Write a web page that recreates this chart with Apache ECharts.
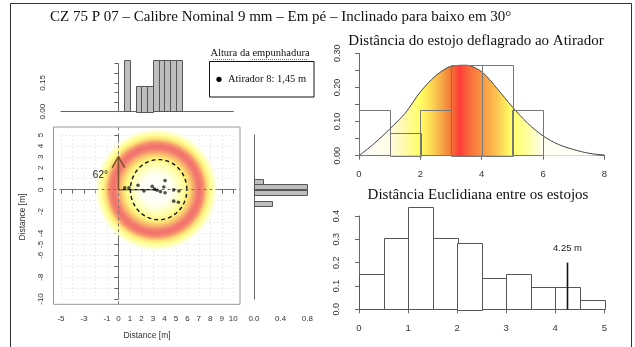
<!DOCTYPE html>
<html lang="pt">
<head>
<meta charset="UTF-8">
<title>CZ 75 P 07 - estojos</title>
<style>
  html, body { margin: 0; padding: 0; background: #fff; }
  #chart { width: 635px; height: 347px; }
</style>
</head>
<body>
<div id="chart"></div>
<script src="https://cdn.jsdelivr.net/npm/echarts@6/dist/echarts.min.js"></script>
<script>
const chart = echarts.init(document.getElementById('chart'));

// textos
const mainTitle = 'CZ 75 P 07 – Calibre Nominal 9 mm – Em pé – Inclinado para baixo em 30°';
const distTitle = 'Distância do estojo deflagrado ao Atirador';
const pairTitle = 'Distância Euclidiana entre os estojos';
const legendTitle = 'Altura da empunhadura';
const legendText = 'Atirador 8: 1,45 m';
const axisTitle = 'Distance [m]';

// posição dos estojos (m)
const shotX = [0.55, 0.92, 1.70, 2.22, 2.94, 3.14, 3.37, 3.66, 3.95, 4.06, 4.06, 4.81, 5.27, 4.81, 5.22];
const shotY = [0.18, 0.18, 0.40, -0.12, 0.30, 0.05, -0.05, -0.18, 0.25, 0.83, -0.28, -0.02, -0.12, -1.05, -1.15];

const shooter = [0, 0];
const meanDist = 3.35;
const aimLen = 3;
const aimLabel = '62°';
const ringCenter = [3.5, 0];
const ringRadiusX = 2.46;
const ringRadiusY = 2.75;
const heatCenter = [3.3, 0];
const heatRadius = 5.4;

const mainXLabels = [-5, -3, -1, 0, 1, 2, 3, 4, 5, 6, 7, 8, 9, 10];
const mainYLabels = [5, 4, 3, 2, 1, 0, -2, -4, -5, -6, -8, -10];

// histograma em x (topo)
const topEdges = [0.5, 1, 1.5, 2, 2.5, 3, 3.5, 4, 4.5, 5, 5.5];
const topDens = [0.267, 0, 0.133, 0.133, 0.133, 0.267, 0.267, 0.267, 0.267, 0.267];
const topYLabels = ['0.00', '0.15'];

// histograma em y (lado)
const sideEdges = [-1.5, -1, -0.5, 0, 0.5, 1];
const sideDens = [0.267, 0, 0.8, 0.8, 0.133];
const sideXLabels = ['0.0', '0.4', '0.8'];

// distancia ao atirador
const distEdges = [0, 1, 2, 3, 4, 5, 6];
const distDens = [0.133, 0.067, 0.133, 0.267, 0.267, 0.133];
const curveX = [0, 0.5, 1, 1.5, 2, 2.5, 3, 3.5, 4, 4.5, 5, 5.5, 6, 6.5, 7, 7.5, 8];
const curveY = [0, 0.036, 0.078, 0.124, 0.187, 0.234, 0.262, 0.265, 0.246, 0.197, 0.143, 0.095, 0.058, 0.033, 0.018, 0.007, 0.002];
const distYLabels = ['0.00', '0.10', '0.20', '0.30'];

// distancia euclidiana entre estojos
const pairEdges = [0, 0.5, 1, 1.5, 2, 2.5, 3, 3.5, 4, 4.5, 5];
const pairDens = [0.152, 0.305, 0.438, 0.305, 0.286, 0.133, 0.152, 0.095, 0.095, 0.038];
const pairRef = 4.25;
const pairRefTop = 0.2;
const pairRefLabel = '4.25 m';

const SANS = 'Liberation Sans, Arial, sans-serif';
const SERIF = 'Liberation Serif, Times New Roman, serif';
const axisGray = '#666';
const labelGray = '#333';

function bins(edges, dens) {
  return dens.map((d, i) => [edges[i], edges[i + 1], d]);
}

// grids em pixels
const box = { left: 53.5, top: 127, right: 240, bottom: 304.3 };
const gB = { left: 61, top: 135, width: 172.3, height: 164 };
const pxX = gB.width / 15, pxY = gB.height / 15;
const boxXMin = -5 - (gB.left - box.left) / pxX;
const boxXMax = 10 + (box.right - gB.left - gB.width) / pxX;
const boxYMax = 5 + (gB.top - box.top) / pxY;
const boxYMin = -10 - (box.bottom - gB.top - gB.height) / pxY;

const grids = [
  { left: box.left, top: box.top, width: box.right - box.left, height: box.bottom - box.top,
    show: true, borderColor: '#999', borderWidth: 1 },
  gB,
  { left: 61, top: 63.7, width: 172.3, height: 48 },
  { left: 254, top: 135, width: 53.3, height: 164 },
  { left: 359, top: 53.3, width: 245.4, height: 102.4 },
  { left: 359, top: 216, width: 245.3, height: 93.3 }
].map(g => Object.assign({ containLabel: false, outerBoundsMode: 'none' }, g));

function valAxis(grid, min, max, extra) {
  const a = {
    type: 'value', gridIndex: grid, min: min, max: max,
    axisLine: { show: true, lineStyle: { color: axisGray, width: 1 } },
    axisTick: { show: true, length: 4, lineStyle: { color: axisGray } },
    axisLabel: { show: true, color: labelGray, fontFamily: SANS, fontSize: 8 },
    splitLine: { show: false }
  };
  for (const k in extra) {
    if (typeof extra[k] === 'object' && a[k]) Object.assign(a[k], extra[k]);
    else a[k] = extra[k];
  }
  return a;
}
const fmtList = (list, dec) => v => list.includes(v.toFixed(dec)) ? v.toFixed(dec) : '';
const hidden = { axisLine: { show: false }, axisTick: { show: false }, axisLabel: { show: false } };
const gridLine = { show: true, lineStyle: { color: '#e8e8e8', type: [2, 2], width: 0.8 } };

const xAxes = [
  valAxis(0, boxXMin, boxXMax, Object.assign({ show: false }, hidden)),
  valAxis(1, -5, 10, { interval: 1, offset: 11, splitLine: gridLine,
    axisLabel: { margin: 5, formatter: v => mainXLabels.includes(Math.round(v)) ? String(Math.round(v)) : '' } }),
  valAxis(2, -5, 10, { axisTick: { show: false }, axisLabel: { show: false } }),
  valAxis(3, 0, 0.8, { interval: 0.2, offset: 7, axisLabel: { margin: 9, formatter: fmtList(sideXLabels, 1) } }),
  valAxis(4, 0, 8, { interval: 2, offset: 6, axisLabel: { margin: 8, fontSize: 9.5 } }),
  valAxis(5, 0, 5, { interval: 1, offset: 5, axisLabel: { margin: 9, fontSize: 9.5 } })
];
const yAxes = [
  valAxis(0, boxYMin, boxYMax, Object.assign({ show: false }, hidden)),
  valAxis(1, -10, 5, { interval: 1, offset: 11.5, splitLine: gridLine,
    axisLabel: { rotate: 90, margin: 5, formatter: v => mainYLabels.includes(Math.round(v)) ? String(Math.round(v)) : '' } }),
  valAxis(2, 0, 0.25, { interval: 0.05, offset: 8, axisLabel: { rotate: 90, margin: 6, formatter: fmtList(topYLabels, 2) } }),
  valAxis(3, -10, 5, { axisTick: { show: false }, axisLabel: { show: false } }),
  valAxis(4, 0, 0.3, { interval: 0.05, offset: 9.5, axisLabel: { rotate: 90, margin: 7, fontSize: 9, formatter: fmtList(distYLabels, 2) } }),
  valAxis(5, 0, 0.4, { interval: 0.1, offset: 10.5, axisLabel: { rotate: 90, margin: 7, fontSize: 9, formatter: fmtList(['0.0', '0.1', '0.2', '0.3', '0.4'], 1) } })
];

function histRender(fill, stroke, horizontal) {
  return function (params, api) {
    let p0, p1;
    if (horizontal) {
      p0 = api.coord([0, api.value(1)]);
      p1 = api.coord([api.value(2), api.value(0)]);
    } else {
      p0 = api.coord([api.value(0), api.value(2)]);
      p1 = api.coord([api.value(1), 0]);
    }
    if (api.value(2) === 0) return null;
    return {
      type: 'rect',
      shape: { x: Math.round(p0[0]) + 0.5, y: Math.round(p0[1]) + 0.5,
        width: Math.round(p1[0] - p0[0]), height: Math.round(p1[1] - p0[1]) },
      style: { fill: fill, stroke: stroke, lineWidth: 1 }
    };
  };
}

const heatStops = [
  [0, '#ffffff'], [0.25, '#fffff2'], [0.42, '#ffffa8'], [0.5, '#fff37c'],
  [0.58, '#f9bc6c'], [0.65, '#f38070'], [0.7, '#f2706c'], [0.76, '#f6906e'],
  [0.82, '#fde076'], [0.88, '#ffff96'], [0.95, '#ffffda'], [1, 'rgba(255,255,255,0)']
];
const areaStops = [
  [0, '#ffffff'], [0.12, '#fffce8'], [0.19, '#fffaa6'], [0.25, '#ffff62'],
  [0.3, '#fcd452'], [0.34, '#f8a444'], [0.38, '#f27034'], [0.41, '#ff3a3a'],
  [0.45, '#f86c3a'], [0.5, '#f89442'], [0.56, '#fbc450'], [0.62, '#ffff66'],
  [0.69, '#ffffa4'], [0.75, '#fffff0'], [1, '#ffffff']
];

const series = [
  {
    type: 'custom', xAxisIndex: 1, yAxisIndex: 1, silent: true, z: 1,
    data: [[heatCenter[0], heatCenter[1], heatRadius]],
    renderItem: (p, api) => {
      const c = api.coord([api.value(0), api.value(1)]);
      const r = api.size([api.value(2), 0])[0];
      return { type: 'circle', shape: { cx: c[0], cy: c[1], r: r },
        style: { fill: { type: 'radial', x: 0.5, y: 0.5, r: 0.5,
          colorStops: heatStops.map(s => ({ offset: s[0], color: s[1] })) } } };
    }
  },
  {
    type: 'scatter', xAxisIndex: 0, yAxisIndex: 0, silent: true, z: 2,
    symbolSize: 0, data: [shooter],
    markLine: {
      silent: true, symbol: 'none', label: { show: false },
      lineStyle: { color: '#777', type: [3, 3], width: 1 },
      data: [{ xAxis: shooter[0] }, { yAxis: shooter[1] }]
    }
  },
  {
    type: 'custom', xAxisIndex: 1, yAxisIndex: 1, silent: true, z: 3,
    data: [[ringCenter[0], ringCenter[1], ringRadiusX, ringRadiusY]],
    renderItem: (p, api) => {
      const pts = [];
      for (let k = 0; k <= 96; k++) {
        const a = k / 96 * Math.PI * 2;
        pts.push(api.coord([api.value(0) + api.value(2) * Math.cos(a), api.value(1) + api.value(3) * Math.sin(a)]));
      }
      return { type: 'polyline', shape: { points: pts },
        style: { fill: 'transparent', stroke: '#111', lineWidth: 1.4, lineDash: [4, 3] } };
    }
  },
  {
    type: 'line', xAxisIndex: 1, yAxisIndex: 1, silent: true, z: 4,
    symbol: 'none', data: [shooter, [shooter[0] + meanDist, shooter[1]]],
    lineStyle: { color: '#111', width: 1.3 }
  },
  {
    type: 'custom', xAxisIndex: 1, yAxisIndex: 1, silent: true, z: 5,
    data: [[shooter[0], shooter[1], aimLen]],
    renderItem: (p, api) => {
      const o = api.coord([api.value(0), api.value(1)]);
      const t = api.coord([api.value(0), api.value(1) + api.value(2)]);
      const ang = Math.atan2(t[1] - o[1], t[0] - o[0]);
      const hl = 12.5, ha = Math.PI / 6;
      const b1 = [t[0] - hl * Math.cos(ang - ha), t[1] - hl * Math.sin(ang - ha)];
      const b2 = [t[0] - hl * Math.cos(ang + ha), t[1] - hl * Math.sin(ang + ha)];
      const st = { stroke: '#7b5228', lineWidth: 1.5, fill: 'transparent' };
      return { type: 'group', children: [
        { type: 'line', shape: { x1: o[0], y1: o[1], x2: t[0], y2: t[1] }, style: st },
        { type: 'polyline', shape: { points: [b1, t, b2] }, style: st },
        { type: 'text', x: o[0] - 18, y: o[1] - 14,
          style: { text: aimLabel, fill: '#222', font: '10px ' + SANS, align: 'center', verticalAlign: 'middle' } }
      ] };
    }
  },
  {
    type: 'scatter', xAxisIndex: 1, yAxisIndex: 1, silent: true, z: 6,
    symbolSize: 3.6, data: shotX.map((x, i) => [x, shotY[i]]),
    itemStyle: { color: 'rgba(0,0,0,0.85)' }
  },
  {
    type: 'custom', xAxisIndex: 2, yAxisIndex: 2, silent: true,
    data: bins(topEdges, topDens), renderItem: histRender('#bebebe', '#555', false)
  },
  {
    type: 'custom', xAxisIndex: 3, yAxisIndex: 3, silent: true,
    data: bins(sideEdges, sideDens), renderItem: histRender('#bebebe', '#555', true)
  },
  {
    type: 'line', xAxisIndex: 4, yAxisIndex: 4, silent: true, z: 2,
    symbol: 'none', smooth: 0.3,
    data: curveX.map((x, i) => [x, curveY[i]]),
    lineStyle: { color: '#444', width: 1 },
    areaStyle: { opacity: 1, color: { type: 'linear', x: 0, y: 0, x2: 1, y2: 0,
      colorStops: areaStops.map(s => ({ offset: s[0], color: s[1] })) } }
  },
  {
    type: 'custom', xAxisIndex: 4, yAxisIndex: 4, silent: true, z: 3,
    data: bins(distEdges, distDens), renderItem: histRender('transparent', '#777777', false)
  },
  {
    type: 'custom', xAxisIndex: 5, yAxisIndex: 5, silent: true, z: 2,
    data: bins(pairEdges, pairDens), renderItem: histRender('#fff', '#555', false)
  },
  {
    type: 'custom', xAxisIndex: 5, yAxisIndex: 5, silent: true, z: 3,
    data: [[pairRef, pairRefTop]],
    renderItem: (p, api) => {
      const b = api.coord([api.value(0), 0]);
      const t = api.coord([api.value(0), api.value(1)]);
      return { type: 'group', children: [
        { type: 'line', shape: { x1: b[0], y1: b[1], x2: t[0], y2: t[1] }, style: { stroke: '#111', lineWidth: 1.6 } },
        { type: 'text', x: t[0], y: t[1] - 14,
          style: { text: pairRefLabel, fill: '#222', font: '9.5px ' + SANS, align: 'center', verticalAlign: 'middle' } }
      ] };
    }
  }
];

function txt(text, x, y, font, opts) {
  return Object.assign({ type: 'text', x: x, y: y, silent: true,
    style: Object.assign({ text: text, font: font, fill: '#111', align: 'left', verticalAlign: 'middle' }, opts || {}) });
}

const graphic = [
  { type: 'rect', silent: true, shape: { x: 10.5, y: 3.5, width: 621, height: 420 },
    style: { fill: 'transparent', stroke: '#333', lineWidth: 1 } },
  txt(mainTitle, 50, 17, '15px ' + SERIF),
  txt(distTitle, 476, 41, '15px ' + SERIF, { align: 'center' }),
  txt(pairTitle, 478, 195, '15px ' + SERIF, { align: 'center' }),
  txt(legendTitle, 260, 53, '10.5px ' + SERIF, { align: 'center' }),
  { type: 'line', silent: true, shape: { x1: 213, y1: 59.5, x2: 234, y2: 59.5 },
    style: { stroke: '#e04040', lineWidth: 1, lineDash: [1, 1] } },
  { type: 'line', silent: true, shape: { x1: 252, y1: 59.5, x2: 308, y2: 59.5 },
    style: { stroke: '#e04040', lineWidth: 1, lineDash: [1, 1] } },
  { type: 'rect', silent: true, shape: { x: 209.5, y: 61.5, width: 104.5, height: 35.5 },
    style: { fill: '#fff', stroke: '#111', lineWidth: 1 } },
  { type: 'circle', silent: true, shape: { cx: 219, cy: 79.3, r: 2.6 }, style: { fill: '#000' } },
  txt(legendText, 228, 79.5, '10.5px ' + SERIF),
  txt(axisTitle, 147, 336, '8.5px ' + SANS, { align: 'center', fill: '#333' }),
  txt(axisTitle, 23, 217, '8.5px ' + SANS, { align: 'center', fill: '#333' })
];
graphic[graphic.length - 1].rotation = Math.PI / 2;

chart.setOption({
  animation: false,
  backgroundColor: '#fff',
  grid: grids,
  xAxis: xAxes,
  yAxis: yAxes,
  series: series,
  graphic: graphic
});
</script>
</body>
</html>
